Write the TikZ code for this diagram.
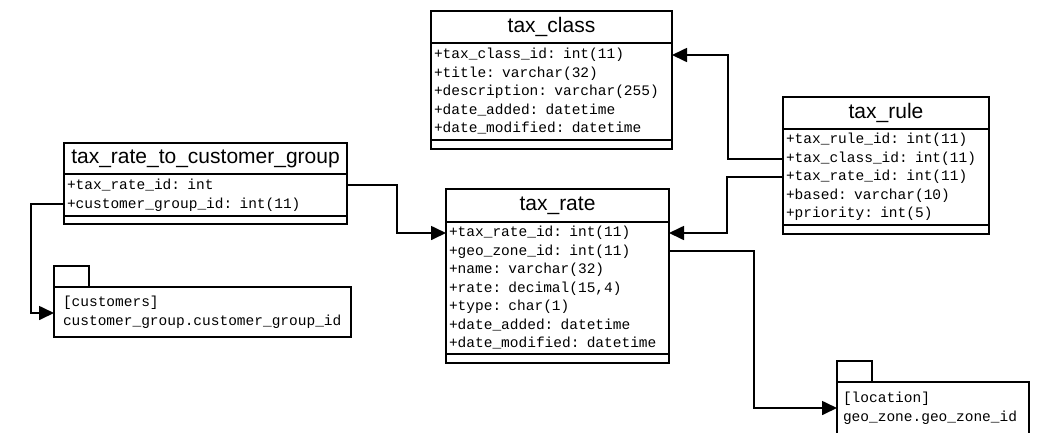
\documentclass[tikz,border=0pt]{standalone}
\usepackage{fontspec}
\setmainfont{Liberation Sans}
\newfontfamily\fieldfont{Liberation Mono}
\usetikzlibrary{arrows.meta,
                positioning
            }

\begin{document}
\begin{tikzpicture}[x=1pt, y=-1pt,
        box/.style={draw, line width=1.7pt, inner sep=0pt, outer sep=0pt, anchor=north west},
        tabtitle/.style={box, font=\fontsize{21}{21}\selectfont},
        tabfields/.style={box, inner xsep=3pt, align=left, font=\fieldfont\fontsize{14.5}{18.5}\selectfont},
        pkg/.style={box, align=left, font=\fieldfont\fontsize{14.5}{19}\selectfont},
        link/.style={line width=1.7pt, -{Triangle[length=15pt, width=14pt]}}]
    \useasboundingbox (0,0) rectangle (1053,432);

    % tax_class
    \node[tabtitle, minimum width=241pt, minimum height=32pt] (class) at (431,11) {tax\_class};
    \node[tabfields, text width=235pt, minimum height=97pt] (class-f) at (class.south west)
        {+tax\_class\_id: int(11)\\+title: varchar(32)\\+description: varchar(255)\\+date\_added: datetime\\+date\_modified: datetime};
    \node[box, minimum width=241pt, minimum height=9pt] (class-b) at (class-f.south west) {};

    % tax_rule
    \node[tabtitle, minimum width=206pt, minimum height=32pt] (rule) at (783,97) {tax\_rule};
    \node[tabfields, text width=200pt, minimum height=96pt] (rule-f) at (rule.south west)
        {+tax\_rule\_id: int(11)\\+tax\_class\_id: int(11)\\+tax\_rate\_id: int(11)\\+based: varchar(10)\\+priority: int(5)};
    \node[box, minimum width=206pt, minimum height=9pt] (rule-b) at (rule-f.south west) {};

    % tax_rate_to_customer_group
    \node[tabtitle, minimum width=283pt, minimum height=31pt] (group) at (64,143) {tax\_rate\_to\_customer\_group};
    \node[tabfields, text width=277pt, minimum height=42pt] (group-f) at (group.south west)
        {+tax\_rate\_id: int\\+customer\_group\_id: int(11)};
    \node[box, minimum width=283pt, minimum height=8pt] (group-b) at (group-f.south west) {};

    % tax_rate
    \node[tabtitle, minimum width=223pt, minimum height=33pt] (rate) at (446,189) {tax\_rate};
    \node[tabfields, text width=217pt, minimum height=132pt] (rate-f) at (rate.south west)
        {+tax\_rate\_id: int(11)\\+geo\_zone\_id: int(11)\\+name: varchar(32)\\+rate: decimal(15,4)\\+type: char(1)\\+date\_added: datetime\\+date\_modified: datetime};
    \node[box, minimum width=223pt, minimum height=9pt] (rate-b) at (rate-f.south west) {};

    % packages
    \node[pkg, inner xsep=9pt, text width=279pt, minimum height=50pt] (cust) at (54,287)
        {[customers]\\customer\_group.customer\_group\_id};
    \node[box, anchor=south west, minimum width=35pt, minimum height=21pt] (cust-tab) at (cust.north west) {};
    \node[pkg, inner xsep=6pt, text width=180pt, minimum height=52pt] (loc) at (837,382)
        {[location]\\geo\_zone.geo\_zone\_id};
    \node[box, anchor=south west, minimum width=35pt, minimum height=21pt] (loc-tab) at (loc.north west) {};

    % links
    \draw[link] ([yshift=-30pt]rule-f.north west) -- ++(-55,0) |- ([yshift=-12pt]class-f.north east);
    \draw[link] ([yshift=-48pt]rule-f.north west) -- ++(-56,0) |- ([yshift=-11pt]rate-f.north east);
    \draw[link] ([yshift=-11pt]group-f.north east) -- ++(50,0) |- ([yshift=-11pt]rate-f.north west);
    \draw[link] ([yshift=-30pt]group-f.north west) -- ++(-33,0) |- ([yshift=-26pt]cust.north west);
    \draw[link] ([yshift=-29pt]rate-f.north east) -- ++(85,0) |- ([yshift=-26pt]loc.north west);
\end{tikzpicture}
\end{document}
